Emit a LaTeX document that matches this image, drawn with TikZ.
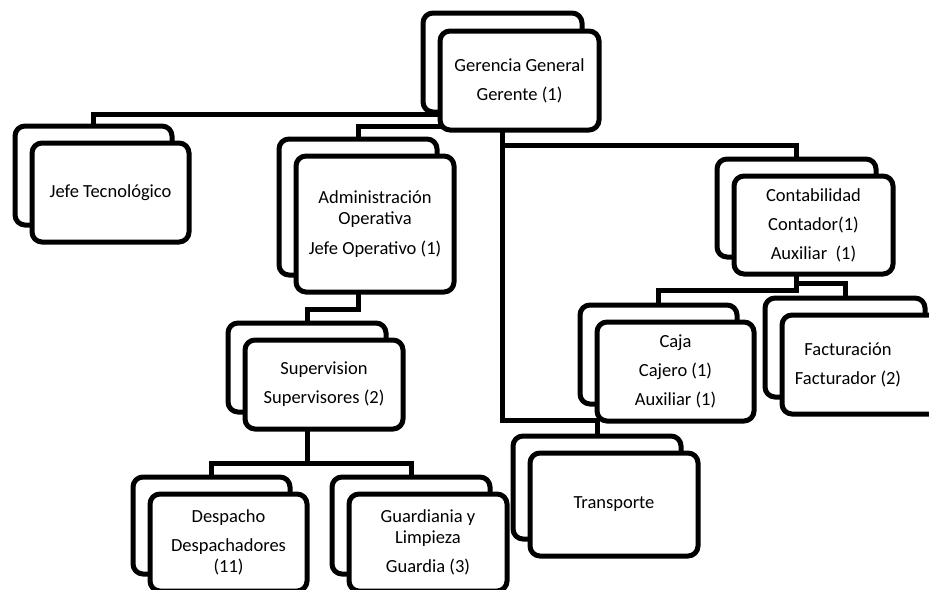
\documentclass[tikz,border=0pt]{standalone}
\usepackage{fontspec}
\setmainfont{Carlito}
\usepackage{tikz}
\usetikzlibrary{backgrounds}
\newcommand{\grosor}{5pt}
\newcommand{\radio}{10pt}
\newcommand{\fuente}{\fontsize{18.5}{21}\selectfont}
\tikzset{puesto/.style={draw, fill=white, line width=\grosor, rounded corners=\radio, align=center, font=\fuente, inner sep=0pt, outer sep=0pt}}

\begin{document}
\begin{tikzpicture}[x=1pt,y=1pt]
\useasboundingbox (0,0) rectangle (929,-589);
\clip (0,0) rectangle (929,-589);
%gerencia
\node[puesto, minimum width=159pt, minimum height=99pt] (gg0) at (502.5,-62.5) {};
\node[puesto, minimum width=159pt, minimum height=99pt] (gg) at (519.5,-80.5) {Gerencia General\\[8pt]Gerente (1)};
%jefe tecnologico
\node[puesto, minimum width=157pt, minimum height=99pt] (jt0) at (93.5,-175.5) {};
\node[puesto, minimum width=157pt, minimum height=99pt] (jt) at (110.5,-192.5) {Jefe Tecnológico};
%administracion
\node[puesto, minimum width=158pt, minimum height=136pt] (ao0) at (358,-207) {};
\node[puesto, minimum width=158pt, minimum height=136pt] (ao) at (375,-224) {Administración\\Operativa\\[9pt]Jefe Operativo (1)};
%supervision
\node[puesto, minimum width=158pt, minimum height=89pt] (sup0) at (307,-367.5) {};
\node[puesto, minimum width=158pt, minimum height=89pt] (sup) at (324,-384.5) {Supervision\\[8pt]Supervisores (2)};
%despacho
\node[puesto, minimum width=157pt, minimum height=97pt] (desp0) at (211.5,-525.5) {};
\node[puesto, minimum width=157pt, minimum height=97pt] (desp) at (228.5,-542.5) {Despacho\\[8pt]Despachadores\\(11)};
%guardiania
\node[puesto, minimum width=158pt, minimum height=97pt] (guard0) at (411,-525.5) {};
\node[puesto, minimum width=158pt, minimum height=97pt] (guard) at (428,-542.5) {Guardiania y\\Limpieza\\[8pt]Guardia (3)};
%contabilidad
\node[puesto, minimum width=159pt, minimum height=98pt] (cont0) at (796.5,-208) {};
\node[puesto, minimum width=159pt, minimum height=98pt] (cont) at (813.5,-225) {Contabilidad\\[8pt]Contador(1)\\[8pt]Auxiliar\ \ (1)};
%caja
\node[puesto, minimum width=157pt, minimum height=99pt] (caja0) at (658.5,-354.5) {};
\node[puesto, minimum width=157pt, minimum height=99pt] (caja) at (675.5,-371.5) {Caja\\[8pt]Cajero (1)\\[8pt]Auxiliar (1)};
%facturacion
\node[puesto, minimum width=160pt, minimum height=99pt] (fact0) at (845,-347.5) {};
\node[puesto, minimum width=160pt, minimum height=99pt] (fact) at (862,-364.5) {Facturación\hspace*{28pt}\\[8pt]Facturador (2)\hspace*{28pt}};
%transporte
\node[puesto, minimum width=168pt, minimum height=103pt] (trans0) at (597,-487.5) {};
\node[puesto, minimum width=168pt, minimum height=103pt] (trans) at (614,-504.5) {Transporte};
%lineas
\begin{scope}[on background layer]
\draw[line width = \grosor] (gg0.center) |- ([yshift=12pt]jt0.north) -- (jt0.north);
\draw[line width = \grosor] (gg0.center) |- ([yshift=13pt]ao0.north) -- (ao0.north);
\draw[line width = \grosor] (gg0.center) |- ([yshift=14pt]cont0.north) -- (cont0.north);
\draw[line width = \grosor] (gg0.center) |- ([yshift=16pt]trans0.north) -- (trans0.north);
\draw[line width = \grosor] (ao0.center) |- ([yshift=13.5pt]sup0.north) -- (sup0.north);
\draw[line width = \grosor] (sup0.center) |- ([yshift=14pt]desp0.north) -- (desp0.north);
\draw[line width = \grosor] (sup0.center) |- ([yshift=14pt]guard0.north) -- (guard0.north);
\draw[line width = \grosor] (cont0.center) |- ([yshift=15pt]caja0.north) -- (caja0.north);
\draw[line width = \grosor] (cont0.center) |- ([yshift=15pt]fact0.north) -- (fact0.north);
\end{scope}
\end{tikzpicture}
\end{document}
